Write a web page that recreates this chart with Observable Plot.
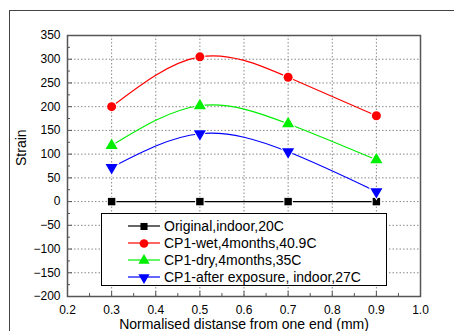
<!DOCTYPE html>
<html><head><meta charset="utf-8">
<script src="https://cdn.jsdelivr.net/npm/d3@7"></script>
<script src="https://cdn.jsdelivr.net/npm/@observablehq/plot@0.6"></script>
<style>
html,body{margin:0;padding:0;background:#fff;}
#wrap{position:relative;width:454px;height:331px;overflow:hidden;font-family:"Liberation Sans",Arial,sans-serif;}
#outer{position:absolute;left:9px;top:10px;width:460px;height:340px;border:1.5px solid #444;box-sizing:border-box;pointer-events:none;}
#legend{position:absolute;left:101px;top:213px;width:286px;height:73px;border:1px solid #000;background:#fff;box-sizing:border-box;font-size:14px;color:#000;}
#legend .row{position:absolute;left:0;height:17px;display:flex;align-items:center;white-space:nowrap;}
#legend svg{margin-left:26px;margin-right:4px;}
</style>
</head><body>
<div id="wrap"><div id="outer"></div></div>
<script>
const xs = [0.3, 0.5, 0.7, 0.9];
const seriesNames = ["Original,indoor,20C", "CP1-wet,4months,40.9C", "CP1-dry,4months,35C", "CP1-after exposure, indoor,27C"];
const original = [0, 0, 0, 0];
const wet = [200, 305, 262, 181];
const dry = [118, 202, 164, 88];
const after = [72, 143, 105, 21];
const colors = ["#000000", "#ff0000", "#00ee00", "#0000ff"];
const symbols = ["square", "circle", "triangle", "triangle"];
const rotations = [0, 0, 0, 180];
const xTicks = [0.2, 0.3, 0.4, 0.5, 0.6, 0.7, 0.8, 0.9, 1.0];
const xMinor = [0.25, 0.35, 0.45, 0.55, 0.65, 0.75, 0.85, 0.95];
const yTicks = [-200, -150, -100, -50, 0, 50, 100, 150, 200, 250, 300, 350];
const yMinor = [-175, -125, -75, -25, 25, 75, 125, 175, 225, 275, 325];

const allValues = [original, wet, dry, after];
const data = [];
allValues.forEach((vals, si) => vals.forEach((v, i) => data.push({series: seriesNames[si], x: xs[i], y: v, si})));

const marks = [
  Plot.gridX(xTicks.slice(1, -1), {stroke: "#888", strokeOpacity: 1, strokeDasharray: "1.5,2"}),
  Plot.gridY(yTicks.slice(1, -1), {stroke: "#888", strokeOpacity: 1, strokeDasharray: "1.5,2"}),
  Plot.axisX(xTicks, {tickSize: 0, tickPadding: 9, tickFormat: d3.format(".1f"), fontSize: 12, label: null}),
  Plot.axisY(yTicks, {tickSize: 0, tickPadding: 7, fontSize: 12, label: null}),
  Plot.axisX(xTicks, {tickSize: -5, text: null, label: null, stroke: "#555"}),
  Plot.axisX(xMinor, {tickSize: -3, text: null, label: null, stroke: "#555"}),
  Plot.axisY(yTicks, {tickSize: -5, text: null, label: null, stroke: "#555"}),
  Plot.axisY(yMinor, {tickSize: -3, text: null, label: null, stroke: "#555"}),
  Plot.frame({stroke: "#555", strokeWidth: 1.5})
];
allValues.forEach((vals, si) => {
  const d = data.filter(r => r.si === si);
  marks.push(Plot.line(d, {x: "x", y: "y", stroke: colors[si], strokeWidth: 1.2, curve: si === 0 ? "linear" : "natural"}));
});
allValues.forEach((vals, si) => {
  const d = data.filter(r => r.si === si);
  marks.push(Plot.dot(d, {x: "x", y: "y", fill: colors[si], stroke: "#fff", strokeWidth: 2, paintOrder: "stroke",
    symbol: () => symbols[si], rotate: rotations[si], r: si === 0 ? 4.2 : 4.5}));
});

const chart = Plot.plot({
  width: 454, height: 331,
  marginLeft: 67, marginRight: 34, marginTop: 35, marginBottom: 35,
  style: {fontFamily: "'Liberation Sans', Arial, sans-serif", color: "#000", background: "transparent"},
  x: {domain: [0.2, 1.0]},
  y: {domain: [-200, 350]},
  symbol: {type: "identity"},
  marks: [
    ...marks,
    Plot.text(["Normalised distanse from one end (mm)"], {frameAnchor: "bottom", dy: 32, fontSize: 14, fill: "#000"}),
    Plot.text(["Strain"], {frameAnchor: "left", dx: -46, rotate: -90, fontSize: 14, fill: "#000"})
  ]
});
chart.style.position = "absolute";
chart.style.left = "0";
chart.style.top = "0";
chart.style.overflow = "visible";
const wrap = document.getElementById("wrap");
wrap.insertBefore(chart, wrap.firstChild);

// legend
const legend = document.createElement("div");
legend.id = "legend";
seriesNames.forEach((name, si) => {
  const row = document.createElement("div");
  row.className = "row";
  row.style.top = (3.5 + si * 17) + "px";
  const sw = d3.create("svg").attr("width", 32).attr("height", 14);
  sw.append("line").attr("x1", 0).attr("x2", 32).attr("y1", 7).attr("y2", 7).attr("stroke", colors[si]).attr("stroke-width", 1.2);
  const sym = {square: d3.symbolSquare, circle: d3.symbolCircle, triangle: d3.symbolTriangle}[symbols[si]];
  const size = si === 0 ? 50 : (si === 1 ? 60 : 55);
  sw.append("path").attr("d", d3.symbol(sym, size)()).attr("transform", `translate(16,7.5) rotate(${rotations[si]})`).attr("fill", colors[si]);
  row.appendChild(sw.node());
  const t = document.createElement("span");
  t.textContent = name;
  row.appendChild(t);
  legend.appendChild(row);
});
wrap.appendChild(legend);
</script>
</body></html>
